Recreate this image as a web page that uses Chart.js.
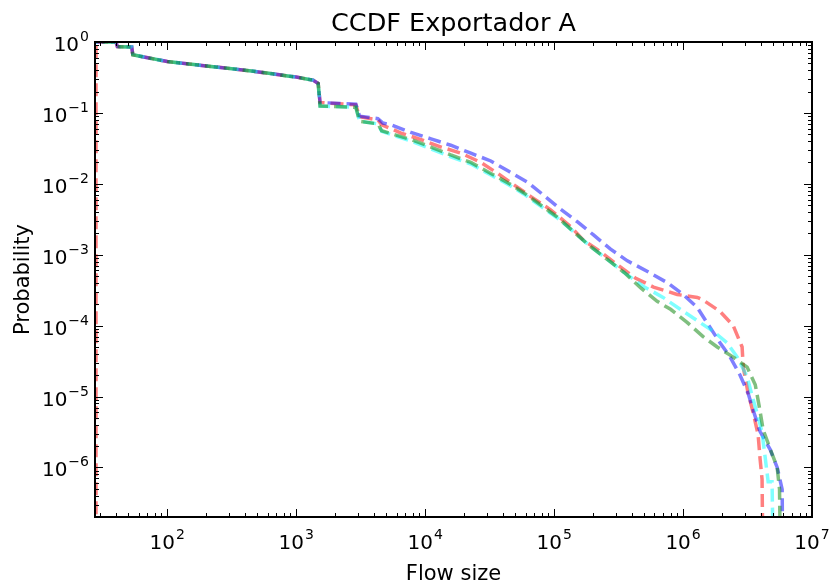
<!DOCTYPE html>
<html>
<head>
<meta charset="utf-8">
<script src="https://cdn.jsdelivr.net/npm/chart.js@4.4.1/dist/chart.umd.min.js"></script>
<style>
  html, body { margin: 0; padding: 0; background: #fff; }
</style>
</head>
<body>
<canvas id="ccdfChart" width="830" height="583"></canvas>
<script>
// shared head of all four curves (flow sizes below the 1500 byte step)
const headSize = [27.5, 40, 41, 53, 54, 100, 200, 450, 1000, 1350, 1480];
const headProb = [1, 1, 0.86, 0.85, 0.66, 0.53, 0.46, 0.39, 0.32, 0.29, 0.26];

const redSize = [1530, 2900, 3100, 4300, 4600, 6500, 9300, 13300, 19000, 27000, 36600, 48700, 66000, 94000,
  134000, 169000, 229000, 310000, 426000, 590000, 900000, 1290000, 1430000, 1940000, 2450000, 2870000,
  2930000, 3200000, 3500000, 3820000, 3960000, 4100000, 4200000];
const redProb = [0.14, 0.13, 0.088, 0.08, 0.068, 0.052, 0.042, 0.033, 0.027, 0.020, 0.014, 0.0097, 0.0066, 0.0043,
  0.0025, 0.0016, 0.0011, 7.2e-4, 4.7e-4, 3.5e-4, 2.75e-4, 2.5e-4, 2.3e-4, 1.58e-4, 1.0e-4, 5e-5,
  2.6e-5, 1.1e-5, 5.9e-6, 2.9e-6, 1.3e-6, 6.8e-7, 1e-8];

const blueSize = [1530, 2900, 3100, 4300, 4700, 5450, 7760, 11100, 15800, 22600, 32300, 44500, 62500, 83000,
  112000, 152000, 202000, 274000, 370000, 530000, 760000, 1000000, 1290000, 1570000, 1940000, 2320000,
  2770000, 3200000, 3550000, 3960000, 4730000, 5370000, 5870000, 5970000];
const blueProb = [0.14, 0.133, 0.09, 0.083, 0.072, 0.068, 0.053, 0.043, 0.035, 0.027, 0.021, 0.015, 0.0105, 0.0069,
  0.0044, 0.0029, 0.0019, 1.2e-3, 8.2e-4, 5.8e-4, 4.0e-4, 2.75e-4, 1.8e-4, 1.03e-4, 5.7e-5, 3.6e-5,
  2.0e-5, 1.1e-5, 5.9e-6, 3.2e-6, 1.8e-6, 1e-6, 4.9e-7, 1e-8];

const cyanSize = [1530, 2900, 3100, 4300, 4600, 7760, 11100, 15800, 22600, 32300, 44000, 58000, 79000, 106000,
  142000, 192000, 260000, 350000, 490000, 700000, 950000, 1360000, 1720000, 2200000, 2630000, 3140000,
  3440000, 3820000, 4100000, 4330000, 4570000, 4900000, 5080000];
const cyanProb = [0.125, 0.12, 0.076, 0.07, 0.055, 0.040, 0.031, 0.024, 0.019, 0.0133, 0.0098, 0.0072, 0.0048, 0.0033,
  0.0021, 0.0013, 8.5e-4, 5.6e-4, 3.6e-4, 2.5e-4, 1.7e-4, 1.1e-4, 8.3e-5, 5.7e-5, 3.6e-5, 1.9e-5,
  1.0e-5, 5.2e-6, 3.1e-6, 1.4e-6, 6.3e-7, 6.3e-7, 1e-8];

const greenSize = [1530, 2900, 3100, 4300, 4600, 7760, 11100, 15800, 22600, 32300, 44000, 58000, 79000, 106000,
  142000, 192000, 260000, 350000, 470000, 630000, 800000, 1080000, 1430000, 1840000, 2450000, 3140000,
  3630000, 3900000, 4180000, 4650000, 5370000, 5600000, 5750000];
const greenProb = [0.125, 0.12, 0.076, 0.07, 0.056, 0.042, 0.033, 0.0255, 0.020, 0.014, 0.0103, 0.0075, 0.0050, 0.0034,
  0.0021, 0.0013, 8.5e-4, 5.6e-4, 3.4e-4, 2.2e-4, 1.7e-4, 1.1e-4, 7.0e-5, 5.0e-5, 3.6e-5, 2.6e-5,
  1.47e-5, 7.2e-6, 3.4e-6, 2.0e-6, 1.0e-6, 4.9e-7, 1e-8];

// red also has a vertical segment right on the left edge
const redEdgeSize = [28, 28];
const redEdgeProb = [1e-8, 1];

const xTickExp = [2, 3, 4, 5, 6, 7];
const yTickExp = [0, -1, -2, -3, -4, -5, -6];

const toPoints = (xs, ys) => xs.map((x, i) => ({ x: x, y: ys[i] }));

const series = (label, xs, ys, color, order, offset) => ({
  label: label,
  data: toPoints(xs, ys),
  borderColor: color,
  borderWidth: 3.5,
  borderDash: [13, 6],
  borderDashOffset: offset,
  pointRadius: 0,
  fill: false,
  tension: 0,
  clip: 0,
  order: order
});

const FONT = '"DejaVu Sans", "Liberation Sans", sans-serif';

function drawPow(ctx, exp, x, baseline, align) {
  const base = '10';
  const sup = exp < 0 ? '\u2212' + Math.abs(exp) : String(exp);
  ctx.font = '20px ' + FONT;
  const wBase = ctx.measureText(base).width;
  ctx.font = '14px ' + FONT;
  const wSup = ctx.measureText(sup).width;
  const total = wBase + wSup + 1;
  let start = align === 'right' ? x - total : x - total / 2;
  ctx.textAlign = 'left';
  ctx.textBaseline = 'alphabetic';
  ctx.font = '20px ' + FONT;
  ctx.fillText(base, start, baseline);
  ctx.font = '14px ' + FONT;
  ctx.fillText(sup, start + wBase + 1, baseline - 10);
}

const framePlugin = {
  id: 'frame',
  afterDraw(chart) {
    const ctx = chart.ctx;
    const a = chart.chartArea;
    const xs = chart.scales.x;
    const ys = chart.scales.y;
    ctx.save();
    ctx.strokeStyle = '#000';
    ctx.fillStyle = '#000';

    // ticks pointing inward, all four sides
    ctx.lineWidth = 1;
    ctx.beginPath();
    for (let k = 1; k <= 7; k++) {
      for (let m = 1; m <= 9; m++) {
        const v = m * Math.pow(10, k);
        if (v < xs.min || v > xs.max) continue;
        const px = Math.round(xs.getPixelForValue(v)) + 0.5;
        const len = m === 1 ? 8 : 4;
        ctx.moveTo(px, a.bottom); ctx.lineTo(px, a.bottom - len);
        ctx.moveTo(px, a.top); ctx.lineTo(px, a.top + len);
      }
    }
    for (let k = -7; k <= 0; k++) {
      for (let m = 1; m <= 9; m++) {
        const v = m * Math.pow(10, k);
        if (v < ys.min || v > ys.max * 1.0001) continue;
        const py = Math.round(ys.getPixelForValue(v)) + 0.5;
        const len = m === 1 ? 8 : 4;
        ctx.moveTo(a.left, py); ctx.lineTo(a.left + len, py);
        ctx.moveTo(a.right, py); ctx.lineTo(a.right - len, py);
      }
    }
    ctx.stroke();

    // frame
    ctx.lineWidth = 2;
    ctx.strokeRect(a.left, a.top, a.right - a.left, a.bottom - a.top);

    // tick labels
    xTickExp.forEach(e => drawPow(ctx, e, xs.getPixelForValue(Math.pow(10, e)), a.bottom + 32, 'center'));
    yTickExp.forEach(e => drawPow(ctx, e, a.left - 6, ys.getPixelForValue(Math.pow(10, e)) + 9, 'right'));

    // title and axis labels
    ctx.textAlign = 'center';
    ctx.textBaseline = 'alphabetic';
    ctx.font = '25.5px ' + FONT;
    ctx.fillText('CCDF Exportador A', (a.left + a.right) / 2, 31);
    ctx.font = '21px ' + FONT;
    ctx.fillText('Flow size', (a.left + a.right) / 2, 580);
    ctx.translate(29, (a.top + a.bottom) / 2);
    ctx.rotate(-Math.PI / 2);
    ctx.fillText('Probability', 0, 0);
    ctx.restore();
  }
};

const ctx = document.getElementById('ccdfChart').getContext('2d');

window.ccdfChart = new Chart(ctx, {
  type: 'line',
  data: {
    datasets: [
      series('red edge', redEdgeSize, redEdgeProb, 'rgba(255, 0, 0, 0.5)', 5, 0),
      series('A1', headSize.concat(redSize), headProb.concat(redProb), 'rgba(255, 0, 0, 0.5)', 4, 0),
      series('A2', headSize.concat(blueSize), headProb.concat(blueProb), 'rgba(0, 0, 255, 0.5)', 3, 3),
      series('A3', headSize.concat(cyanSize), headProb.concat(cyanProb), 'rgba(0, 255, 255, 0.5)', 2, 10),
      series('A4', headSize.concat(greenSize), headProb.concat(greenProb), 'rgba(0, 128, 0, 0.5)', 1, 12)
    ]
  },
  options: {
    responsive: false,
    animation: false,
    layout: { padding: { left: 95, right: 18, top: 42, bottom: 66 } },
    scales: {
      x: { type: 'logarithmic', min: 27.5, max: 1e7, display: false },
      y: { type: 'logarithmic', min: 2e-7, max: 1, display: false }
    },
    plugins: {
      legend: { display: false },
      tooltip: { enabled: false }
    }
  },
  plugins: [framePlugin]
});
</script>
</body>
</html>
